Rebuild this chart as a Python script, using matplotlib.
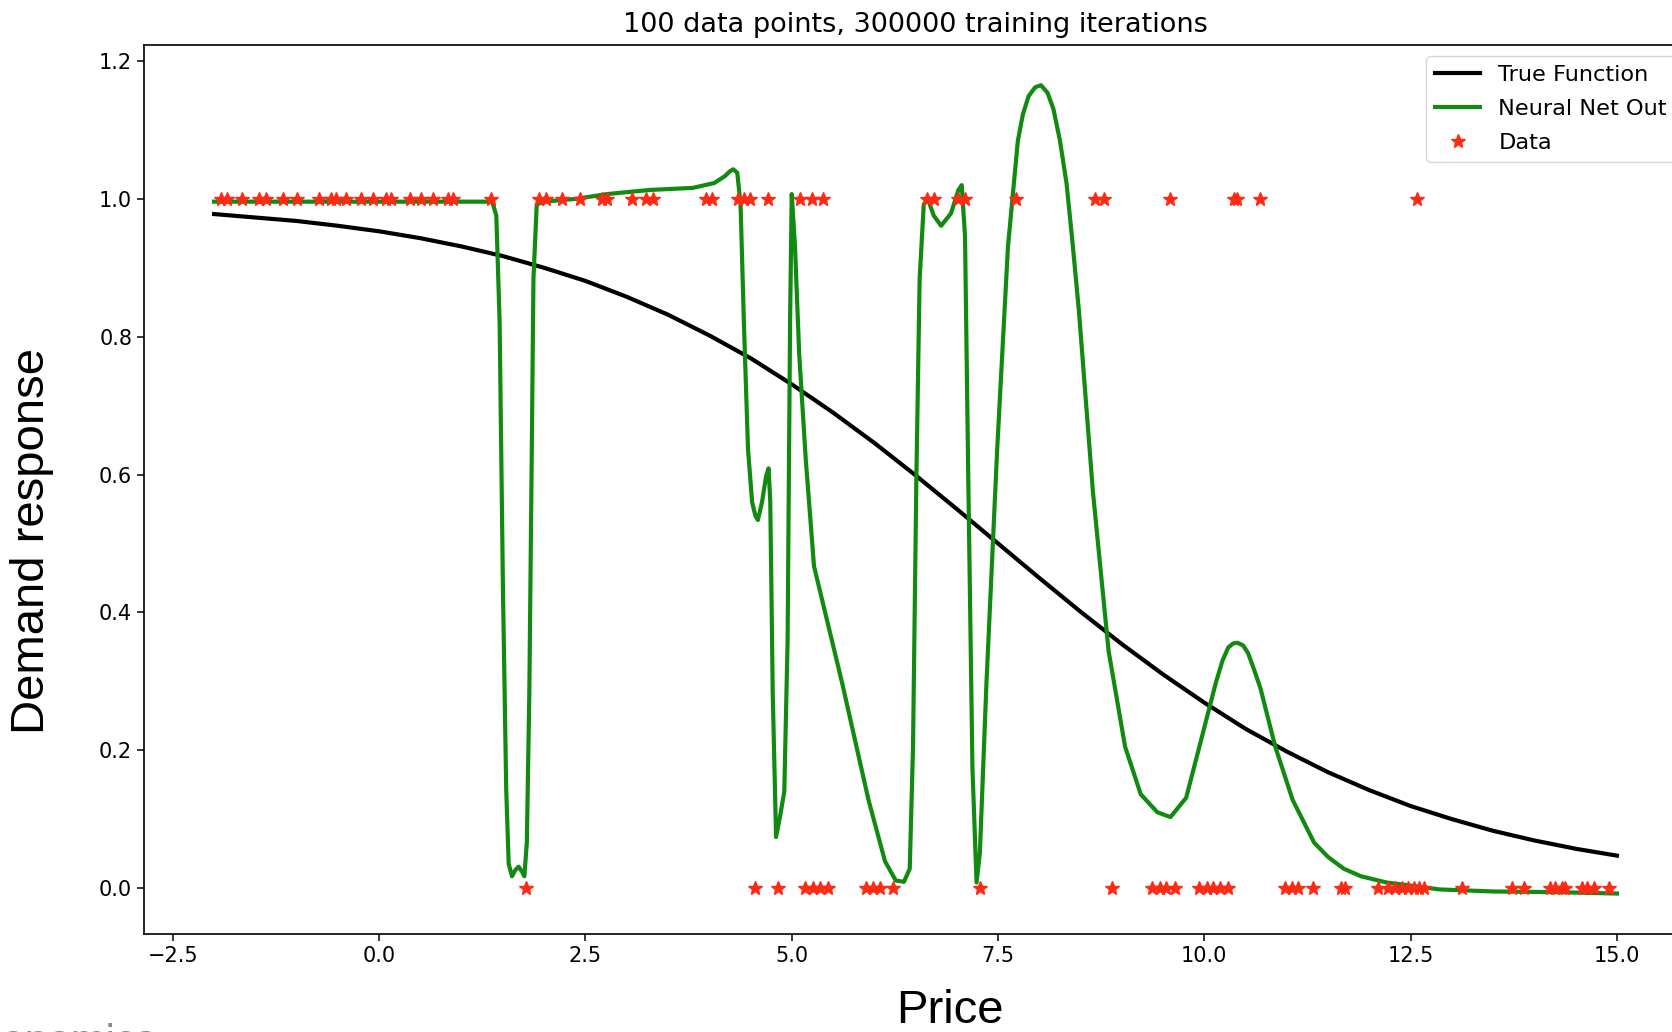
import matplotlib
matplotlib.use("Agg")
import matplotlib.pyplot as plt

# ---- data ----
# stars at demand = 1
data_x_one = [-1.92, -1.84, -1.66, -1.45, -1.37, -1.17, -0.99, -0.73, -0.58, -0.52,
              -0.40, -0.22, -0.08, 0.08, 0.14, 0.37, 0.51, 0.65, 0.83, 0.89,
              1.36, 1.94, 2.02, 2.22, 2.43, 2.70, 2.76, 3.07, 3.24, 3.32,
              3.96, 4.03, 4.35, 4.42, 4.50, 4.71, 5.10, 5.24, 5.38, 6.64,
              6.72, 7.02, 7.10, 7.72, 8.68, 8.78, 9.58, 10.36, 10.40, 10.68, 12.58]
# stars at demand = 0
data_x_zero = [1.78, 4.56, 4.83, 5.16, 5.26, 5.34, 5.44, 5.90, 5.98, 6.07,
               6.23, 7.28, 8.88, 9.36, 9.46, 9.54, 9.64, 9.93, 10.03, 10.11,
               10.19, 10.29, 10.98, 11.06, 11.14, 11.32, 11.66, 11.70, 12.11, 12.23,
               12.31, 12.39, 12.47, 12.54, 12.60, 12.66, 13.12, 13.73, 13.87, 14.19,
               14.25, 14.33, 14.37, 14.58, 14.64, 14.72, 14.90]

# true function
true_x = [-2.0, -1.5, -1.0, -0.5, 0.0, 0.5, 1.0, 1.5, 2.0, 2.5, 3.0, 3.5, 4.0, 4.5,
          5.0, 5.5, 6.0, 6.5, 7.0, 7.5, 8.0, 8.5, 9.0, 9.5, 10.0, 10.5, 11.0, 11.5,
          12.0, 12.5, 13.0, 13.5, 14.0, 14.5, 15.0]
true_y = [0.978, 0.973, 0.968, 0.961, 0.953, 0.943, 0.931, 0.917, 0.900, 0.881,
          0.858, 0.832, 0.802, 0.769, 0.731, 0.690, 0.646, 0.599, 0.550, 0.500,
          0.450, 0.401, 0.354, 0.310, 0.269, 0.231, 0.198, 0.168, 0.142, 0.119,
          0.100, 0.083, 0.069, 0.057, 0.047]

# neural net output
net_x = [-2.0, 1.37, 1.42, 1.46, 1.50, 1.54, 1.57, 1.61, 1.65, 1.69, 1.73, 1.76, 1.79,
         1.82, 1.85, 1.87, 1.91, 1.99, 2.38, 2.76, 3.28, 3.80, 4.06, 4.19, 4.25, 4.29,
         4.34, 4.38, 4.42, 4.47, 4.52, 4.56, 4.59, 4.64, 4.69, 4.72, 4.74, 4.77, 4.81,
         4.86, 4.91, 4.95, 4.98, 5.00, 5.04, 5.09, 5.17, 5.27, 5.61, 5.93, 6.13, 6.26,
         6.36, 6.43, 6.47, 6.51, 6.55, 6.60, 6.65, 6.72, 6.81, 6.93, 7.02, 7.06, 7.10,
         7.14, 7.19, 7.24, 7.28, 7.36, 7.49, 7.62, 7.74, 7.80, 7.87, 7.95, 8.02, 8.10,
         8.17, 8.25, 8.33, 8.40, 8.48, 8.65, 8.84, 9.04, 9.23, 9.43, 9.59, 9.78, 9.94,
         10.14, 10.22, 10.29, 10.35, 10.40, 10.47, 10.53, 10.60, 10.68, 10.86, 11.07,
         11.33, 11.50, 11.69, 11.90, 12.21, 12.85, 13.50, 14.28, 15.0]
net_y = [0.996, 0.996, 0.976, 0.822, 0.437, 0.143, 0.035, 0.017, 0.026, 0.031, 0.024,
         0.017, 0.066, 0.282, 0.637, 0.884, 0.992, 0.996, 1.000, 1.007, 1.013, 1.016,
         1.023, 1.033, 1.040, 1.043, 1.038, 0.992, 0.822, 0.637, 0.560, 0.540, 0.534,
         0.560, 0.598, 0.609, 0.560, 0.282, 0.074, 0.105, 0.140, 0.359, 0.822, 1.007,
         0.930, 0.776, 0.622, 0.467, 0.298, 0.128, 0.039, 0.011, 0.009, 0.028, 0.205,
         0.591, 0.884, 0.992, 1.000, 0.976, 0.961, 0.979, 1.013, 1.020, 0.946, 0.591,
         0.174, 0.008, 0.051, 0.298, 0.637, 0.930, 1.084, 1.122, 1.149, 1.162, 1.165,
         1.154, 1.131, 1.085, 1.023, 0.940, 0.838, 0.575, 0.344, 0.205, 0.136, 0.110,
         0.103, 0.131, 0.205, 0.298, 0.330, 0.349, 0.355, 0.356, 0.352, 0.341, 0.318,
         0.290, 0.205, 0.128, 0.066, 0.045, 0.028, 0.017, 0.008, -0.002, -0.005, -0.006,
         -0.008]

title = "100 data points, 300000 training iterations"

fig = plt.figure(figsize=(16.72, 10.32), dpi=100)
ax = fig.add_axes([0.0861, 0.095, 0.9229, 0.8616])

ax.plot(true_x, true_y, color='black', lw=3, label='True Function')
ax.plot(net_x, net_y, color='#108a10', lw=3, label='Neural Net Out')
ax.plot(data_x_one + data_x_zero, [1.0] * len(data_x_one) + [0.0] * len(data_x_zero),
        '*', color='#ff2a14', ms=10, ls='none', label='Data')

ax.set_title(title, fontsize=19.5, pad=9)
ax.tick_params(labelsize=15, length=5, width=1.1)
for s in ax.spines.values():
    s.set_linewidth(1.2)
ax.legend(loc='upper right', fontsize=16.2, labelspacing=0.62)

fig.text(0.019, 0.476, 'Demand response', rotation=90, fontsize=34,
         family='Liberation Sans', ha='center', va='center')
fig.text(0.568, 0.02, 'Price', fontsize=34, family='Liberation Sans',
         ha='center', va='center')
fig.text(-0.028, -0.021, 'Economics', fontsize=30, family='Liberation Sans',
         color='#888888', ha='left', va='baseline')

fig.savefig('out.png', dpi=100)
